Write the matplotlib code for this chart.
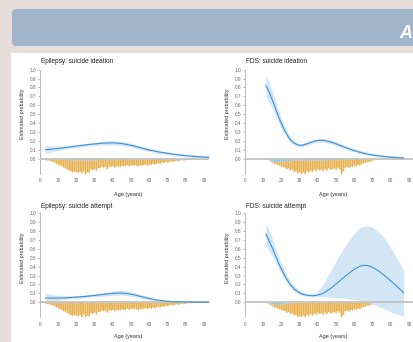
import matplotlib
matplotlib.use("Agg")
import matplotlib.pyplot as plt
import numpy as np
from matplotlib.patches import FancyBboxPatch, Rectangle

plt.rcParams['font.family'] = ['Liberation Sans', 'DejaVu Sans']

# age distributions (counts per year of age), shown hanging below zero
epi_ages = np.arange(3, 93)
epi_total = [2, 3, 3, 4, 5, 6, 8, 9, 11, 12,
             14, 15, 17, 18, 20, 21, 20, 21, 22, 20,
             23, 19, 25, 21, 22, 17, 18, 16, 19, 15,
             15, 13, 14, 13, 16, 12, 13, 12, 14, 12,
             12, 13, 11, 12, 11, 10, 12, 10, 11, 10,
             11, 12, 10, 11, 10, 9, 11, 9, 10, 8,
             9, 8, 7, 8, 6, 7, 5, 6, 5, 4,
             5, 4, 3, 4, 3, 2, 3, 2, 2, 1,
             2, 1, 1, 1, 1, 0, 1, 0, 1, 0]
epi_ideation_yes = [0, 0, 0, 1, 1, 1, 1, 1, 1, 1,
                    2, 2, 2, 2, 3, 3, 3, 3, 3, 3,
                    3, 3, 4, 3, 3, 3, 3, 3, 3, 2,
                    3, 2, 3, 2, 3, 2, 3, 2, 3, 2,
                    2, 2, 2, 2, 2, 2, 2, 1, 2, 1,
                    1, 1, 1, 1, 1, 1, 1, 1, 1, 0,
                    1, 0, 0, 1, 0, 0, 0, 0, 0, 0,
                    0, 0, 0, 0, 0, 0, 0, 0, 0, 0,
                    0, 0, 0, 0, 0, 0, 0, 0, 0, 0]
epi_attempt_yes = [0, 0, 0, 0, 0, 0, 1, 0, 1, 0,
                   1, 1, 1, 1, 1, 1, 1, 2, 1, 1,
                   1, 1, 2, 1, 1, 1, 1, 1, 1, 1,
                   1, 1, 1, 1, 1, 1, 1, 1, 1, 1,
                   1, 1, 1, 1, 1, 0, 1, 0, 1, 0,
                   0, 1, 0, 0, 0, 0, 0, 0, 0, 0,
                   0, 0, 0, 0, 0, 0, 0, 0, 0, 0,
                   0, 0, 0, 0, 0, 0, 0, 0, 0, 0,
                   0, 0, 0, 0, 0, 0, 0, 0, 0, 0]

fds_ages = np.arange(11, 88)
fds_total = [1, 1, 2, 4, 6, 7, 8, 9, 10, 11,
             12, 13, 15, 14, 17, 16, 19, 18, 21, 20,
             23, 19, 22, 18, 20, 17, 19, 16, 18, 15,
             17, 16, 18, 15, 17, 14, 16, 15, 14, 16,
             13, 15, 22, 18, 13, 12, 13, 11, 12, 10,
             11, 9, 10, 8, 7, 6, 5, 5, 4, 3,
             2, 2, 1, 1, 1, 1, 1, 0, 1, 1,
             0, 1, 1, 0, 1, 0, 1]
fds_ideation_yes = [1, 1, 2, 3, 4, 5, 5, 5, 5, 5,
                    5, 4, 4, 4, 4, 3, 3, 3, 3, 3,
                    3, 3, 3, 3, 3, 3, 3, 3, 3, 3,
                    3, 3, 3, 3, 3, 3, 2, 2, 2, 2,
                    2, 2, 2, 2, 2, 1, 1, 1, 1, 1,
                    1, 1, 0, 1, 0, 0, 0, 0, 0, 0,
                    0, 0, 0, 0, 0, 0, 0, 0, 0, 0,
                    0, 0, 0, 0, 0, 0, 0]
fds_attempt_yes = [1, 1, 1, 2, 3, 3, 4, 4, 3, 3,
                   3, 2, 2, 2, 2, 2, 1, 1, 1, 1,
                   1, 1, 1, 1, 1, 1, 1, 1, 1, 1,
                   1, 1, 1, 1, 1, 1, 1, 1, 1, 1,
                   1, 1, 1, 1, 0, 1, 0, 0, 0, 0,
                   0, 0, 0, 0, 0, 0, 0, 0, 0, 0,
                   0, 0, 0, 0, 0, 0, 0, 0, 0, 0,
                   0, 0, 0, 0, 0, 0, 0]

# estimated probability curves with confidence bands
epi_id_age = [3, 7, 11, 15, 20, 25, 30, 35, 40, 45, 50, 55, 60, 65, 70, 75, 80, 85, 90, 93]
epi_id_est = [0.100, 0.108, 0.118, 0.128, 0.142, 0.155, 0.166, 0.175, 0.178, 0.170,
              0.150, 0.124, 0.097, 0.076, 0.060, 0.045, 0.034, 0.025, 0.018, 0.015]
epi_id_lo = [0.058, 0.078, 0.095, 0.110, 0.125, 0.138, 0.149, 0.155, 0.155, 0.148,
             0.130, 0.105, 0.080, 0.060, 0.045, 0.031, 0.020, 0.012, 0.007, 0.005]
epi_id_hi = [0.148, 0.140, 0.143, 0.148, 0.160, 0.173, 0.186, 0.199, 0.205, 0.195,
             0.172, 0.145, 0.116, 0.094, 0.077, 0.062, 0.051, 0.042, 0.035, 0.032]

fds_id_age = [11.5, 13, 15, 17, 19, 21, 23, 25, 27, 29, 31, 33, 35, 38, 41, 44, 47, 50,
              54, 58, 62, 66, 70, 75, 80, 84, 87]
fds_id_est = [0.82, 0.76, 0.66, 0.55, 0.44, 0.35, 0.27, 0.21, 0.175, 0.155, 0.150, 0.160,
              0.176, 0.197, 0.207, 0.203, 0.188, 0.167, 0.135, 0.104, 0.078, 0.057,
              0.041, 0.027, 0.017, 0.011, 0.007]
fds_id_lo = [0.70, 0.65, 0.57, 0.48, 0.38, 0.30, 0.23, 0.18, 0.150, 0.135, 0.130, 0.141,
             0.156, 0.176, 0.185, 0.181, 0.166, 0.145, 0.114, 0.085, 0.061, 0.042,
             0.028, 0.016, 0.008, 0.003, 0.001]
fds_id_hi = [0.94, 0.87, 0.76, 0.63, 0.51, 0.40, 0.31, 0.245, 0.200, 0.175, 0.170, 0.180,
             0.197, 0.219, 0.230, 0.226, 0.211, 0.190, 0.158, 0.126, 0.099, 0.078,
             0.061, 0.046, 0.035, 0.028, 0.024]

epi_at_age = [3, 7, 11, 15, 20, 25, 30, 35, 40, 44, 48, 52, 56, 60, 64, 68, 72, 76, 80, 85, 90, 93]
epi_at_est = [0.048, 0.047, 0.048, 0.051, 0.058, 0.066, 0.077, 0.089, 0.100, 0.104, 0.098,
              0.082, 0.062, 0.042, 0.026, 0.015, 0.008, 0.005, 0.003, 0.002, 0.002, 0.002]
epi_at_lo = [0.005, 0.015, 0.025, 0.033, 0.042, 0.050, 0.060, 0.070, 0.078, 0.080, 0.074,
             0.060, 0.043, 0.027, 0.015, 0.007, 0.003, 0.001, 0.000, 0.000, 0.000, 0.000]
epi_at_hi = [0.105, 0.085, 0.075, 0.072, 0.076, 0.084, 0.096, 0.112, 0.128, 0.135, 0.127,
             0.108, 0.084, 0.061, 0.041, 0.027, 0.017, 0.011, 0.008, 0.006, 0.005, 0.005]

fds_at_age = [11.5, 13, 15, 17, 19, 21, 23, 25, 27, 29, 31, 33, 35, 37, 39, 41, 43, 45,
              48, 51, 54, 57, 60, 63, 65, 67, 69, 72, 75, 78, 81, 84, 87]
fds_at_est = [0.765, 0.70, 0.61, 0.51, 0.415, 0.33, 0.255, 0.195, 0.150, 0.118, 0.096,
              0.083, 0.076, 0.074, 0.077, 0.087, 0.104, 0.128, 0.172, 0.223, 0.276,
              0.326, 0.372, 0.405, 0.415, 0.414, 0.402, 0.370, 0.326, 0.276, 0.222,
              0.166, 0.108]
fds_at_lo = [0.635, 0.585, 0.515, 0.435, 0.355, 0.28, 0.215, 0.162, 0.122, 0.095, 0.077,
             0.066, 0.061, 0.059, 0.060, 0.061, 0.061, 0.059, 0.055, 0.050, 0.045,
             0.039, 0.030, 0.020, 0.012, 0.002, -0.012, -0.035, -0.062, -0.090, -0.115,
             -0.138, -0.158]
fds_at_hi = [0.885, 0.815, 0.715, 0.595, 0.485, 0.385, 0.305, 0.235, 0.185, 0.148, 0.122,
             0.106, 0.097, 0.097, 0.110, 0.150, 0.210, 0.280, 0.390, 0.500, 0.600,
             0.695, 0.775, 0.835, 0.855, 0.860, 0.850, 0.815, 0.755, 0.675, 0.575,
             0.470, 0.365]

W, H = 413, 342
fig = plt.figure(figsize=(W / 100, H / 100), dpi=100)
fig.patch.set_facecolor('#e7dedb')

bg = fig.add_axes([0, 0, 1, 1])
bg.set_xlim(0, W)
bg.set_ylim(H, 0)
bg.axis('off')
bg.add_patch(FancyBboxPatch((12, 9), 430, 37, boxstyle="round,pad=0,rounding_size=4",
                            facecolor='#a0b5c9', edgecolor='none'))
bg.add_patch(Rectangle((11, 53), 410, 300, facecolor='white', edgecolor='none'))
bg.text(399, 33, "A", color='white', fontsize=13, fontweight='bold', style='italic',
        va='center', ha='left')

line_c = '#3f8fd2'
band_c = '#cfe4f6'
orange = '#e8b14f'
lblue = '#8dbcdd'
ax_w = 169.5
ax_h = 104.1


def panel(left_px, top_px, title, ages, total, yes, scale, c_age, est, lo, hi, title_off, xlab_off):
    ax = fig.add_axes([left_px / W, (H - top_px - ax_h) / H, ax_w / W, ax_h / H])
    ax.set_xlim(0, 93)
    ax.set_ylim(-0.17, 1.0)
    total = np.array(total)
    yes = np.array(yes)
    no = total - yes
    ax.bar(ages, -yes * scale, width=0.9, color=lblue, lw=0, snap=False, zorder=1)
    ax.bar(ages, -no * scale, bottom=-yes * scale, width=0.9, color=orange, lw=0,
           snap=False, zorder=1)
    ax.fill_between(c_age, lo, hi, color=band_c, alpha=0.92, lw=0, zorder=2)
    ax.axhline(0, color='#c4c4c4', lw=1.3, zorder=3)
    ax.plot(c_age, est, color=line_c, lw=0.8, zorder=4)
    for s in ['top', 'right', 'bottom']:
        ax.spines[s].set_visible(False)
    ax.spines['left'].set_color('#b0b0b0')
    ax.spines['left'].set_linewidth(0.6)
    ax.set_yticks(np.arange(0, 1.01, 0.1))
    ax.set_yticklabels([f"{v:.1f}" for v in np.arange(0, 1.01, 0.1)])
    ax.set_xticks(range(0, 91, 10))
    ax.tick_params(axis='y', length=1.5, width=0.5, color='#999999', labelsize=3.4,
                   labelcolor='#666666', pad=1)
    ax.tick_params(axis='x', length=0, labelsize=3.4, labelcolor='#666666', pad=3)
    ax.text(0.005, 1 + title_off / ax_h, title, transform=ax.transAxes, fontsize=4.7,
            color='#222222', va='center', ha='left')
    ax.text(0.52, -xlab_off / ax_h, "Age (years)", transform=ax.transAxes, fontsize=4.0,
            color='#333333', va='center', ha='center')
    ax.text(-18 / ax_w, 0.573, "Estimated probability", transform=ax.transAxes,
            fontsize=3.9, color='#333333', rotation=90, va='center', ha='center')
    ax.patch.set_alpha(0)
    return ax


panel(40, 69.7, "Epilepsy: suicide ideation", epi_ages, epi_total, epi_ideation_yes, 0.0072,
      epi_id_age, epi_id_est, epi_id_lo, epi_id_hi, 8, 21)
panel(245, 69.7, "FDS: suicide ideation", fds_ages, fds_total, fds_ideation_yes, 0.0078,
      fds_id_age, fds_id_est, fds_id_lo, fds_id_hi, 8, 21)
panel(40, 213.3, "Epilepsy: suicide attempt", epi_ages, epi_total, epi_attempt_yes, 0.0072,
      epi_at_age, epi_at_est, epi_at_lo, epi_at_hi, 6.5, 19.5)
panel(245, 213.3, "FDS: suicide attempt", fds_ages, fds_total, fds_attempt_yes, 0.0078,
      fds_at_age, fds_at_est, fds_at_lo, fds_at_hi, 6.5, 19.5)

fig.savefig("out.png", dpi=100, facecolor=fig.get_facecolor())
